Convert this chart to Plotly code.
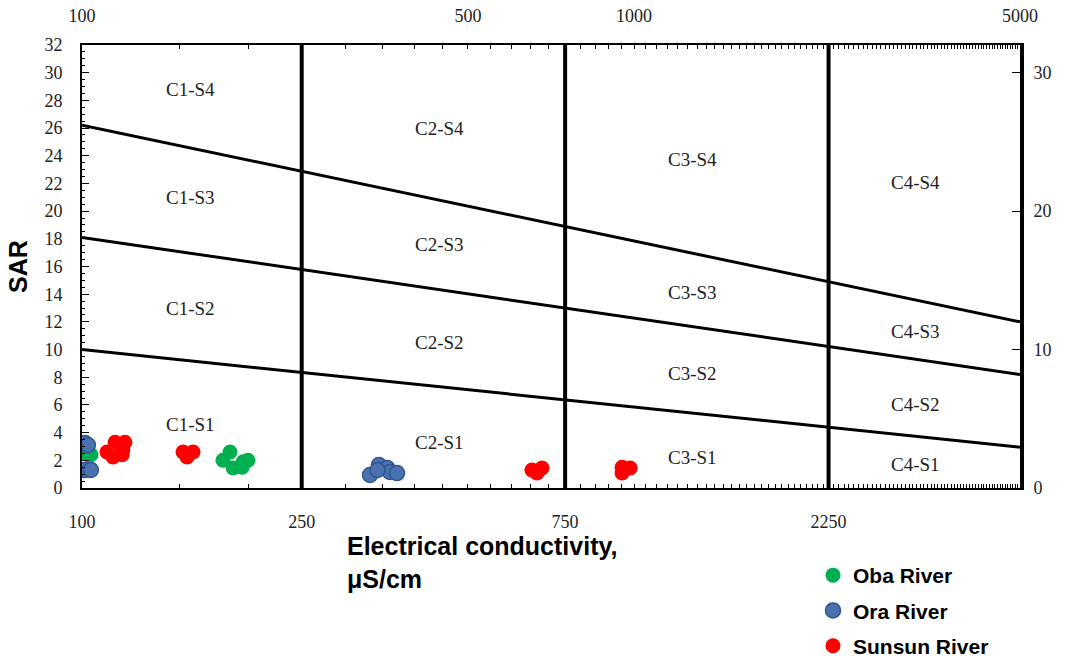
import numpy as np
import plotly.graph_objects as go

# ---------------- data ----------------
oba_ec = [102.5, 103.8, 185.4, 180.0, 187.8, 195.0, 195.9, 199.8]
oba_sar = [2.4, 2.4, 2.6, 2.0, 1.45, 1.5, 1.9, 2.0]

ora_ec = [101.3, 102.5, 101.3, 103.8, 332.4, 345.0, 357.0, 361.0, 372.0, 343.0]
ora_sar = [3.25, 3.1, 1.3, 1.3, 0.94, 1.66, 1.45, 1.16, 1.08, 1.3]

sunsun_ec = [111.0, 114.8, 119.6, 113.8, 118.2, 118.6, 152.4, 158.9, 155.0,
             653.0, 681.0, 667.0, 951.0, 984.0, 951.0]
sunsun_sar = [2.6, 3.3, 3.3, 2.24, 2.4, 2.75, 2.6, 2.6, 2.24,
              1.3, 1.45, 1.08, 1.5, 1.45, 1.08]

# hazard boundaries (EC at the chart ends, SAR boundary values)
boundary_ec = [100, 5000]
s1_s2 = [10.0, 2.95]
s2_s3 = [18.1, 8.2]
s3_s4 = [26.2, 12.0]
salinity_limits = [250, 750, 2250]

bottom_ticks = [100, 250, 750, 2250]
top_ticks = [100, 500, 1000, 5000]
right_ticks = [0, 10, 20, 30]

class_labels = ["C1-S4", "C1-S3", "C1-S2", "C1-S1",
                "C2-S4", "C2-S3", "C2-S2", "C2-S1",
                "C3-S4", "C3-S3", "C3-S2", "C3-S1",
                "C4-S4", "C4-S3", "C4-S2", "C4-S1"]
class_ec = [157, 157, 157, 157, 445, 445, 445, 445,
            1274, 1274, 1274, 1274, 3228, 3228, 3228, 3228]
class_sar = [28.8, 20.95, 13.0, 4.6, 26.0, 17.6, 10.5, 3.3,
             23.7, 14.1, 8.3, 2.2, 22.1, 11.3, 6.0, 1.7]

# ---------------- figure ----------------
serif = "Liberation Serif, Times New Roman, serif"
sans = "Liberation Sans, Arial, sans-serif"

fig = go.Figure()

for yv in (s1_s2, s2_s3, s3_s4):
    fig.add_trace(go.Scatter(x=boundary_ec, y=yv, mode="lines",
                             line=dict(color="black", width=3),
                             showlegend=False, hoverinfo="skip"))

fig.add_trace(go.Scatter(x=oba_ec, y=oba_sar, mode="markers", name="Oba River",
                         legendgroup="a",
                         marker=dict(color="#00b050", size=15, line=dict(width=0))))
fig.add_trace(go.Scatter(x=ora_ec, y=ora_sar, mode="markers", name="Ora River",
                         legendgroup="b",
                         marker=dict(color="#4a72b0", size=15,
                                     line=dict(width=1.5, color="#2e5590"))))
fig.add_trace(go.Scatter(x=sunsun_ec, y=sunsun_sar, mode="markers", name="Sunsun River",
                         legendgroup="c",
                         marker=dict(color="#ff0000", size=15, line=dict(width=0))))

# invisible trace for secondary axes
fig.add_trace(go.Scatter(x=boundary_ec, y=[0, 0], xaxis="x2", yaxis="y2",
                         mode="lines", line=dict(width=0), showlegend=False,
                         hoverinfo="skip"))

for ec in salinity_limits:
    fig.add_shape(type="line", xref="x", yref="y", x0=ec, x1=ec, y0=0, y1=32,
                  line=dict(color="black", width=4))

for lab, ex, sy in zip(class_labels, class_ec, class_sar):
    fig.add_annotation(x=np.log10(ex), y=sy, xref="x", yref="y", text=lab,
                       showarrow=False, font=dict(family=serif, size=19, color="#222"))

xr = [2, np.log10(5000)]
fig.update_layout(
    width=1065, height=660,
    margin=dict(l=82, r=45, t=45, b=172, autoexpand=False),
    paper_bgcolor="white", plot_bgcolor="white",
    xaxis=dict(type="log", range=xr, tickvals=bottom_ticks,
               ticktext=[str(v) for v in bottom_ticks], automargin=False,
               ticks="inside", ticklen=5, tickcolor="black",
               showline=True, linewidth=2, linecolor="black",
               showgrid=False, zeroline=False,
               ticklabelstandoff=16,
               minor=dict(ticks="inside", ticklen=4, tickcolor="black", showgrid=False),
               tickfont=dict(family=serif, size=18, color="#222")),
    xaxis2=dict(type="log", range=xr, overlaying="x", side="top", anchor="y",
                tickvals=top_ticks, ticktext=[str(v) for v in top_ticks],
                automargin=False,
                ticks="inside", ticklen=4, tickcolor="black",
                showline=True, linewidth=2, linecolor="black",
                showgrid=False, zeroline=False, ticklabelstandoff=14,
                minor=dict(ticks="inside", ticklen=4, tickcolor="black", showgrid=False),
                tickfont=dict(family=serif, size=18, color="#222")),
    yaxis=dict(range=[0, 32], dtick=2, ticks="inside", ticklen=7, automargin=False,
               tickcolor="black", showline=True, linewidth=2, linecolor="black",
               showgrid=False, zeroline=False, ticklabelstandoff=14,
               minor=dict(ticks="inside", ticklen=3, dtick=0.5, tickcolor="black",
                          showgrid=False),
               tickfont=dict(family=serif, size=18, color="#222"),
               title=dict(text="<b>SAR</b>", standoff=10,
                          font=dict(family=sans, size=25, color="black"))),
    yaxis2=dict(range=[0, 32], overlaying="y", side="right", anchor="x",
                tickvals=right_ticks, ticks="inside", ticklen=8, automargin=False,
                tickcolor="black", showline=True, linewidth=4, linecolor="black",
                showgrid=False, zeroline=False, ticklabelstandoff=6,
                tickfont=dict(family=serif, size=18, color="#222")),
    legend=dict(xref="container", yref="container", x=813 / 1065, y=(660 - 555) / 660,
                xanchor="left", yanchor="top",
                font=dict(family=sans, size=21, color="black", weight="bold"),
                tracegroupgap=5, bgcolor="rgba(0,0,0,0)"),
    showlegend=True,
)

fig.add_annotation(xref="paper", yref="paper", x=(345 - 82) / 938, y=(488 - 530) / 443,
                   xanchor="left", yanchor="top", align="left", showarrow=False,
                   text="<b>Electrical conductivity,<br>μS/cm</b>",
                   font=dict(family=sans, size=25, color="black"))

fig.write_html("out.html")
